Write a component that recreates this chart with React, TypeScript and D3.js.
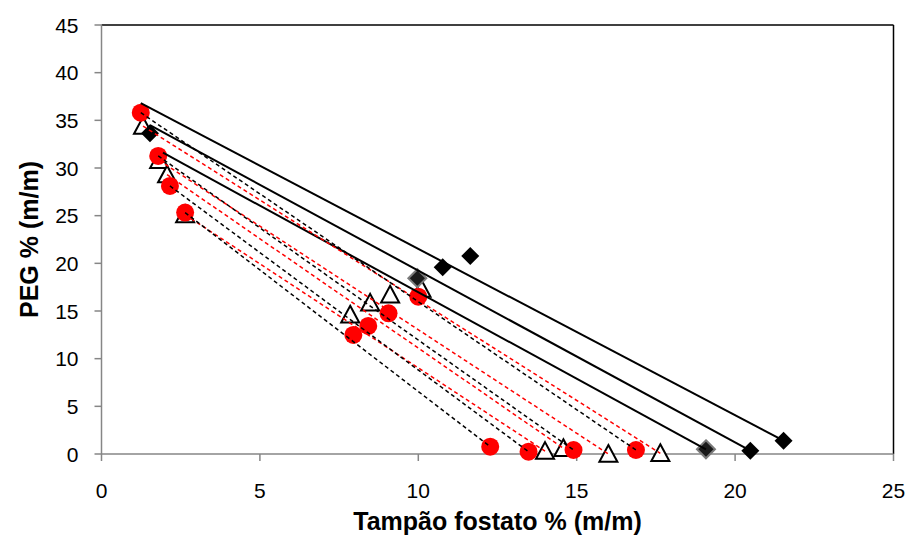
import React from "react";
import * as d3 from "d3";

// Marker series
const circleX = [1.24, 1.79, 2.16, 2.64, 7.95, 8.42, 9.06, 10.0, 12.27, 13.48, 14.9, 16.87];
const circleY = [35.8, 31.27, 28.12, 25.32, 12.49, 13.43, 14.76, 16.5, 0.77, 0.24, 0.42, 0.42];
const triX = [1.31, 1.82, 2.07, 2.64, 7.85, 8.48, 9.11, 10.1, 14.0, 14.58, 16.0, 17.64];
const triY = [34.4, 30.8, 29.3, 25.1, 14.6, 15.85, 16.7, 17.3, 0.3, 0.6, 0.0, 0.07];
const diamondX = [1.53, 10.77, 11.64, 20.48, 21.53];
const diamondY = [33.65, 19.59, 20.78, 0.35, 1.4];
const grayDiamondX = [9.97, 19.08];
const grayDiamondY = [18.44, 0.49];

// Tie lines (start/end)
const solidX1 = [1.24, 1.53, 1.94];
const solidY1 = [36.8, 34.5, 31.6];
const solidX2 = [21.53, 20.48, 19.08];
const solidY2 = [1.4, 0.35, 0.49];

const blackDashX1 = [1.24, 1.79, 2.16, 2.64];
const blackDashY1 = [35.8, 31.27, 28.12, 25.32];
const blackDashX2 = [16.87, 14.9, 13.48, 12.27];
const blackDashY2 = [0.42, 0.42, 0.24, 0.77];

const redDashX1 = [1.31, 1.82, 2.07, 2.64];
const redDashY1 = [34.4, 30.8, 29.3, 25.1];
const redDashX2 = [17.64, 16.0, 14.58, 14.0];
const redDashY2 = [0.07, 0.0, 0.6, 0.3];

const xTicks = [0, 5, 10, 15, 20, 25];
const yTicks = [0, 5, 10, 15, 20, 25, 30, 35, 40, 45];
const xTitle = "Tampão fostato % (m/m)";
const yTitle = "PEG % (m/m)";

const W = 913;
const H = 538;
const L = 101.5, R = 893.5, T = 25, B = 454;

export default function App() {
  const x = d3.scaleLinear().domain([0, 25]).range([L, R]);
  const y = d3.scaleLinear().domain([0, 45]).range([B, T]);
  const line = d3.line<[number, number]>().x((d) => x(d[0])).y((d) => y(d[1]));
  const font = "'Liberation Sans', Arial, sans-serif";

  const seg = (x1: number[], y1: number[], x2: number[], y2: number[]) =>
    x1.map((v, i) => line([[v, y1[i]], [x2[i], y2[i]]]) as string);

  const tri = (cx: number, cy: number) => {
    const s = 9;
    return `M${cx},${cy - s}L${cx + s},${cy + s * 0.85}L${cx - s},${cy + s * 0.85}Z`;
  };
  const dia = (cx: number, cy: number) => {
    const s = 9;
    return `M${cx},${cy - s}L${cx + s},${cy}L${cx},${cy + s}L${cx - s},${cy}Z`;
  };

  return (
    <svg width={W} height={H} style={{ position: "absolute", left: 0, top: 0, background: "#fff" }}>
      <rect x={0} y={0} width={W} height={H} fill="#fff" />
      {/* frame */}
      <line x1={L} y1={T} x2={R} y2={T} stroke="#000" strokeWidth={1.5} />
      <line x1={R} y1={T} x2={R} y2={B} stroke="#000" strokeWidth={1.5} />
      {/* axes */}
      <line x1={L} y1={T} x2={L} y2={B} stroke="#868686" strokeWidth={1.5} />
      <line x1={L} y1={B} x2={R} y2={B} stroke="#868686" strokeWidth={1.5} />
      {yTicks.map((t) => (
        <g key={"y" + t}>
          <line x1={L - 7} x2={L} y1={y(t)} y2={y(t)} stroke="#868686" strokeWidth={1.5} />
          <text x={L - 23} y={y(t)} dy="0.36em" textAnchor="end" fontFamily={font} fontSize={21} fill="#000">
            {t}
          </text>
        </g>
      ))}
      {xTicks.map((t) => (
        <g key={"x" + t}>
          <line x1={x(t)} x2={x(t)} y1={B} y2={B + 7} stroke="#868686" strokeWidth={1.5} />
          <text x={x(t)} y={498} textAnchor="middle" fontFamily={font} fontSize={21} fill="#000">
            {t}
          </text>
        </g>
      ))}
      <text x={(L + R) / 2} y={530} textAnchor="middle" fontFamily={font} fontSize={25} fontWeight="bold">
        {xTitle}
      </text>
      <text
        transform={`translate(38,${(T + B) / 2}) rotate(-90)`}
        textAnchor="middle"
        fontFamily={font}
        fontSize={25}
        fontWeight="bold"
      >
        {yTitle}
      </text>

      {/* markers */}
      {triX.map((v, i) => (
        <path key={"t" + i} d={tri(x(v), y(triY[i]))} fill="#fff" stroke="#000" strokeWidth={2} />
      ))}
      {circleX.map((v, i) => (
        <circle key={"c" + i} cx={x(v)} cy={y(circleY[i])} r={9} fill="#ff0000" />
      ))}
      {grayDiamondX.map((v, i) => (
        <path key={"g" + i} d={dia(x(v), y(grayDiamondY[i]))} fill="#1a1a1a" stroke="#7a7a7a" strokeWidth={2} />
      ))}
      {diamondX.map((v, i) => (
        <path key={"d" + i} d={dia(x(v), y(diamondY[i]))} fill="#000" />
      ))}

      {/* tie lines */}
      {seg(solidX1, solidY1, solidX2, solidY2).map((d, i) => (
        <path key={"s" + i} d={d} stroke="#000" strokeWidth={2} fill="none" />
      ))}
      {seg(redDashX1, redDashY1, redDashX2, redDashY2).map((d, i) => (
        <path key={"r" + i} d={d} stroke="#ff0000" strokeWidth={1.5} strokeDasharray="4,3" fill="none" />
      ))}
      {seg(blackDashX1, blackDashY1, blackDashX2, blackDashY2).map((d, i) => (
        <path key={"b" + i} d={d} stroke="#000" strokeWidth={1.5} strokeDasharray="4,3" fill="none" />
      ))}
    </svg>
  );
}
